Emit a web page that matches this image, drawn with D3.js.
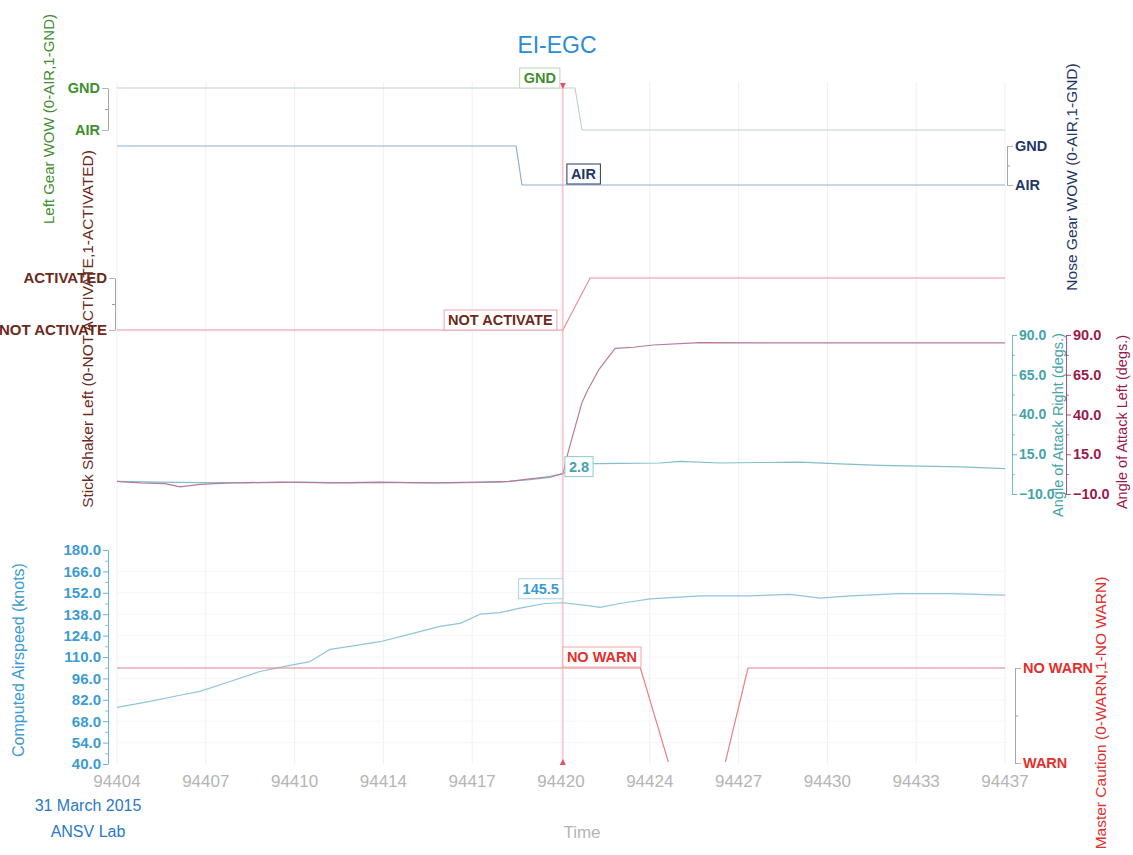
<!DOCTYPE html>
<html>
<head>
<meta charset="utf-8">
<script src="https://cdn.jsdelivr.net/npm/d3@7"></script>
<style>
  html, body { margin: 0; padding: 0; background: #ffffff; }
  svg { display: block; font-family: "Liberation Sans", Arial, Helvetica, sans-serif; }
</style>
</head>
<body>
<svg id="chart" width="1133" height="855"></svg>
<script>
// ---- time axis ----
const timeTicks = [94403.7, 94407.0, 94410.3, 94413.6, 94416.9, 94420.2, 94423.5, 94426.8, 94430.1, 94433.4, 94436.7];
const timeTickLabels = ["94404", "94407", "94410", "94414", "94417", "94420", "94424", "94427", "94430", "94433", "94437"];
const cursorTime = 94420.27;

// ---- discrete parameters ----
const gearStates = ["AIR", "GND"];
const shakerStates = ["NOT ACTIVATE", "ACTIVATED"];
const cautionStates = ["WARN", "NO WARN"];

const leftGearTime  = [94403.7, 94420.27, 94420.72, 94420.98, 94436.7];
const leftGearValue = [1, 1, 1, 0, 0];

const noseGearTime  = [94403.7, 94418.53, 94418.75, 94420.27, 94436.7];
const noseGearValue = [1, 1, 0, 0, 0];

const shakerTime  = [94403.7, 94420.27, 94421.28, 94436.7];
const shakerValue = [0, 0, 1, 1];

const cautionTime  = [94403.7, 94420.27, 94423.15, 94424.2, 94426.3, 94427.15, 94436.7];
const cautionValue = [1, 1, 1, 0, 0, 1, 1];

// ---- angle of attack (deg) ----
const aoaLeftTime  = [94403.7, 94404.55, 94405.48, 94406.04, 94406.78, 94407.9, 94409.76, 94411.62, 94413.47, 94415.33, 94417.19, 94418.3, 94419.05, 94419.79, 94420.27, 94420.47, 94420.97, 94421.16, 94421.6, 94422.21, 94422.89, 94423.62, 94425.37, 94429.08, 94432.8, 94436.7];
const aoaLeftValue = [-2.0, -3.0, -3.5, -5.5, -4.0, -3.0, -2.5, -3.0, -2.5, -3.0, -2.5, -2.0, -0.5, 1.0, 2.8, 16.6, 47.0, 54.3, 68.0, 81.6, 82.3, 83.7, 85.2, 85.0, 85.0, 85.0];

const aoaRightTime  = [94403.7, 94405.3, 94406.78, 94408.64, 94410.5, 94412.36, 94414.22, 94416.07, 94417.93, 94419.05, 94419.79, 94420.27, 94420.83, 94422.39, 94423.88, 94424.63, 94426.11, 94427.6, 94429.08, 94430.57, 94432.06, 94433.55, 94435.03, 94436.7];
const aoaRightValue = [-2.0, -2.5, -2.8, -3.0, -2.5, -3.0, -2.8, -3.0, -2.5, -1.0, 0.5, 2.8, 9.0, 9.3, 9.5, 10.5, 9.5, 9.8, 10.0, 9.0, 8.0, 7.5, 7.0, 6.0];
const aoaTicks = [-10, 15, 40, 65, 90];

// ---- computed airspeed (knots) ----
const speedTime  = [94403.7, 94404.93, 94406.04, 94406.78, 94407.9, 94409.01, 94410.13, 94410.87, 94411.62, 94412.36, 94413.47, 94414.59, 94415.7, 94416.45, 94417.19, 94417.93, 94418.68, 94419.61, 94420.27, 94421.28, 94421.65, 94422.39, 94423.51, 94425.37, 94427.22, 94428.71, 94429.83, 94430.94, 94432.8, 94434.66, 94436.7];
const speedValue = [77.0, 81.0, 85.0, 87.5, 94.0, 100.5, 104.5, 107.0, 115.0, 117.0, 120.0, 125.0, 130.0, 132.0, 138.0, 139.0, 142.0, 145.0, 145.5, 143.5, 142.5, 145.0, 148.0, 150.0, 150.0, 151.0, 148.5, 150.0, 151.5, 151.5, 150.5];
const speedTicks = [40, 54, 68, 82, 96, 110, 124, 138, 152, 166, 180];

// ---- colours ----
const C = {
  title: "#2a8bd8",
  leftGear: "#3f8f2f", leftGearLine: "#c2d0d0",
  noseGear: "#1f3866", noseGearLine: "#8cb0d2",
  shaker: "#6b2a1c", shakerLine: "#ea8d9c", shakerBox: "#eaa3ad",
  aoaRight: "#45a3aa", aoaRightLine: "#82bfcc",
  aoaLeft: "#9a1a4c", aoaLeftLine: "#b77a9c",
  speed: "#3c9bd2", speedLine: "#8ec5dd",
  caution: "#e2302c", cautionLine: "#e8808a",
  tick: "#b5b5b5", grid: "#f0f0f0", cursor: "#f2a6b4", cursorMark: "#e0506a",
  note: "#2a78c8"
};

const svg = d3.select("#chart");

// ---- scales ----
const x = d3.scaleLinear().domain([timeTicks[0], timeTicks[timeTicks.length - 1]]).range([117, 1005]);
const yLeftGear = d3.scaleLinear().domain([0, 1]).range([130, 88]);
const yNoseGear = d3.scaleLinear().domain([0, 1]).range([185, 146]);
const yShaker = d3.scaleLinear().domain([0, 1]).range([330, 278]);
const yAoa = d3.scaleLinear().domain([-10, 90]).range([494, 335]);
const ySpeed = d3.scaleLinear().domain([40, 180]).range([764, 550]);
const yCaution = d3.scaleLinear().domain([0, 1]).range([763, 668]);

const zip = (ts, vs) => ts.map((t, i) => ({ t, v: vs[i] }));
const valueAt = (ts, vs, t) => {
  const i = ts.indexOf(t);
  if (i >= 0) return vs[i];
  const j = d3.bisectLeft(ts, t);
  const k = (t - ts[j - 1]) / (ts[j] - ts[j - 1]);
  return vs[j - 1] + k * (vs[j] - vs[j - 1]);
};

// ---- grid ----
const grid = svg.append("g");
grid.selectAll("line.v").data(timeTicks).join("line")
  .attr("x1", d => x(d)).attr("x2", d => x(d))
  .attr("y1", 82).attr("y2", 764)
  .attr("stroke", C.grid).attr("stroke-width", 1);
grid.selectAll("line.h").data(speedTicks.slice(1, -1)).join("line")
  .attr("x1", x.range()[0]).attr("x2", x.range()[1])
  .attr("y1", d => ySpeed(d)).attr("y2", d => ySpeed(d))
  .attr("stroke", "#f6f6f6").attr("stroke-width", 1);

// ---- title ----
svg.append("text").attr("x", 557).attr("y", 53).attr("text-anchor", "middle")
  .attr("font-size", 23).attr("fill", C.title).text("EI-EGC");

// ---- helpers for axes ----
function styleAxis(g, color, fontSize, weight) {
  g.selectAll("path.domain").attr("stroke", color).attr("stroke-opacity", 0.75);
  g.selectAll(".tick line").attr("stroke", color).attr("stroke-opacity", 0.75);
  g.selectAll(".tick text").attr("fill", color).attr("font-size", fontSize)
    .attr("font-weight", weight || "normal")
    .attr("font-family", "'Liberation Sans', Arial, sans-serif");
}
function discreteAxis(scale, states, xPos, side, color, fontSize) {
  const ax = (side === "left" ? d3.axisLeft(scale) : d3.axisRight(scale))
    .tickValues([0, 1]).tickFormat(i => states[i]).tickSize(6).tickSizeOuter(0).tickPadding(2);
  const g = svg.append("g").attr("transform", `translate(${xPos},0)`).call(ax);
  styleAxis(g, color, fontSize, "bold");
  g.selectAll(".tick line").attr("stroke", "#9a9a9a");
  g.selectAll("path.domain").attr("stroke", "#8a8a8a");
  const minor = (side === "left" ? d3.axisLeft(scale) : d3.axisRight(scale))
    .tickValues([0.5]).tickFormat("").tickSize(3).tickSizeOuter(0);
  const m = svg.append("g").attr("transform", `translate(${xPos},0)`).call(minor);
  m.select("path.domain").remove();
  m.selectAll(".tick line").attr("stroke", "#9a9a9a");
  return g;
}
function axisTitle(text, cx, cy, color, size) {
  svg.append("text")
    .attr("transform", `translate(${cx},${cy}) rotate(-90)`)
    .attr("text-anchor", "middle").attr("dy", "0.35em")
    .attr("font-size", size).attr("fill", color).text(text);
}

// ---- left gear WOW ----
discreteAxis(yLeftGear, gearStates, 108, "left", C.leftGear, 14.5);
axisTitle("Left Gear WOW (0-AIR,1-GND)", 49, 119, C.leftGear, 15);

// ---- nose gear WOW ----
discreteAxis(yNoseGear, gearStates, 1007, "right", C.noseGear, 14.5);
axisTitle("Nose Gear WOW (0-AIR,1-GND)", 1072, 177, C.noseGear, 15.5);

// ---- stick shaker ----
discreteAxis(yShaker, shakerStates, 115, "left", C.shaker, 15);
axisTitle("Stick Shaker Left (0-NOT ACTIVATE,1-ACTIVATED)", 88, 329, C.shaker, 15.5);

// ---- master caution ----
discreteAxis(yCaution, cautionStates, 1015, "right", C.caution, 14.5);
axisTitle("Master Caution (0-WARN,1-NO WARN)", 1101, 713, C.caution, 15.5);

// ---- numeric axes ----
function numericAxis(scale, ticks, xPos, side, color, fontSize, minorStep) {
  const ax = (side === "left" ? d3.axisLeft(scale) : d3.axisRight(scale))
    .tickValues(ticks).tickFormat(d3.format(".1f")).tickSize(5).tickSizeOuter(0).tickPadding(2);
  const g = svg.append("g").attr("transform", `translate(${xPos},0)`).call(ax);
  styleAxis(g, color, fontSize, "bold");
  const minors = [];
  for (let i = 0; i < ticks.length - 1; i++) minors.push(ticks[i] + minorStep);
  const m = svg.append("g").attr("transform", `translate(${xPos},0)`)
    .call((side === "left" ? d3.axisLeft(scale) : d3.axisRight(scale))
      .tickValues(minors).tickFormat("").tickSize(3).tickSizeOuter(0));
  m.select("path.domain").remove();
  m.selectAll(".tick line").attr("stroke", color).attr("stroke-opacity", 0.6);
  return g;
}
numericAxis(yAoa, aoaTicks, 1012, "right", C.aoaRight, 14, 12.5);
axisTitle("Angle of Attack Right (degs.)", 1058, 425, C.aoaRight, 14.5);
numericAxis(yAoa, aoaTicks, 1066, "right", C.aoaLeft, 14.5, 12.5);
axisTitle("Angle of Attack Left (degs.)", 1122, 422, C.aoaLeft, 14.5);

// ---- airspeed axis ----
numericAxis(ySpeed, speedTicks, 108, "left", C.speed, 15, 7);
axisTitle("Computed Airspeed (knots)", 18, 660, C.speed, 16);

// ---- time axis labels ----
svg.append("g").selectAll("text").data(timeTicks).join("text")
  .attr("x", d => x(d)).attr("y", 787).attr("text-anchor", "middle")
  .attr("font-size", 17).attr("fill", C.tick)
  .text((d, i) => timeTickLabels[i]);
svg.append("text").attr("x", 582).attr("y", 838).attr("text-anchor", "middle")
  .attr("font-size", 17).attr("fill", C.tick).text("Time");

svg.append("text").attr("x", 88).attr("y", 811).attr("text-anchor", "middle")
  .attr("font-size", 16).attr("fill", C.note).text("31 March 2015");
svg.append("text").attr("x", 88).attr("y", 837).attr("text-anchor", "middle")
  .attr("font-size", 16).attr("fill", C.note).text("ANSV Lab");

// ---- series ----
svg.append("defs").append("clipPath").attr("id", "plotClip")
  .append("rect").attr("x", 110).attr("y", 78).attr("width", 900).attr("height", 684);
const plot = svg.append("g").attr("clip-path", "url(#plotClip)");

function drawSeries(ts, vs, yScale, color, width) {
  plot.append("path").datum(zip(ts, vs))
    .attr("fill", "none").attr("stroke", color).attr("stroke-width", width)
    .attr("stroke-linejoin", "round")
    .attr("d", d3.line().x(d => x(d.t)).y(d => yScale(d.v)));
}
drawSeries(leftGearTime, leftGearValue, yLeftGear, C.leftGearLine, 1.2);
drawSeries(noseGearTime, noseGearValue, yNoseGear, C.noseGearLine, 1.2);
drawSeries(shakerTime, shakerValue, yShaker, C.shakerLine, 1.2);
drawSeries(aoaRightTime, aoaRightValue, yAoa, C.aoaRightLine, 1.2);
drawSeries(aoaLeftTime, aoaLeftValue, yAoa, C.aoaLeftLine, 1.2);
drawSeries(speedTime, speedValue, ySpeed, C.speedLine, 1.2);
drawSeries(cautionTime, cautionValue, yCaution, C.cautionLine, 1.2);

// ---- cursor ----
const cx = x(cursorTime);
svg.append("line").attr("x1", cx).attr("x2", cx).attr("y1", 84).attr("y2", 764)
  .attr("stroke", C.cursor).attr("stroke-width", 1);
svg.append("path").attr("d", `M${cx - 3},83 L${cx + 3},83 L${cx},89 Z`).attr("fill", C.cursorMark);
svg.append("path").attr("d", `M${cx - 3},765 L${cx + 3},765 L${cx},759 Z`).attr("fill", C.cursorMark);

// ---- cursor value boxes ----
function valueBox(text, anchorX, anchorY, align, textColor, borderColor) {
  const g = svg.append("g");
  const t = g.append("text").attr("font-size", 14.5).attr("font-weight", "bold")
    .attr("fill", textColor).text(text);
  const bb = t.node().getBBox();
  const padX = 4, h = 20, w = bb.width + padX * 2;
  const left = align === "right" ? anchorX - w : anchorX;
  const top = anchorY - h;
  g.insert("rect", "text").attr("x", left).attr("y", top).attr("width", w).attr("height", h)
    .attr("fill", "#ffffff").attr("stroke", borderColor).attr("stroke-width", 1);
  t.attr("x", left + padX).attr("y", top + h / 2).attr("dy", "0.36em");
}
const lg = valueAt(leftGearTime, leftGearValue, cursorTime);
valueBox(gearStates[lg], cx - 3, yLeftGear(lg), "right", C.leftGear, "#b6dcae");
const ng = valueAt(noseGearTime, noseGearValue, cursorTime);
valueBox(gearStates[ng], cx + 4, yNoseGear(ng) - 1, "left", C.noseGear, C.noseGear);
const sh = valueAt(shakerTime, shakerValue, cursorTime);
valueBox(shakerStates[sh], cx - 6, yShaker(sh), "right", C.shaker, C.shakerBox);
const ar = valueAt(aoaRightTime, aoaRightValue, cursorTime);
valueBox(d3.format(".1f")(ar), cx + 2, yAoa(ar) + 3, "left", C.aoaRight, "#8cc9cf");
const sp = valueAt(speedTime, speedValue, cursorTime);
valueBox(d3.format(".1f")(sp), cx, ySpeed(sp) - 4, "right", C.speed, "#a8d4ea");
const mc = valueAt(cautionTime, cautionValue, cursorTime);
valueBox(cautionStates[mc], cx, yCaution(mc) - 1, "left", C.caution, "#f0a8a8");
</script>
</body>
</html>
